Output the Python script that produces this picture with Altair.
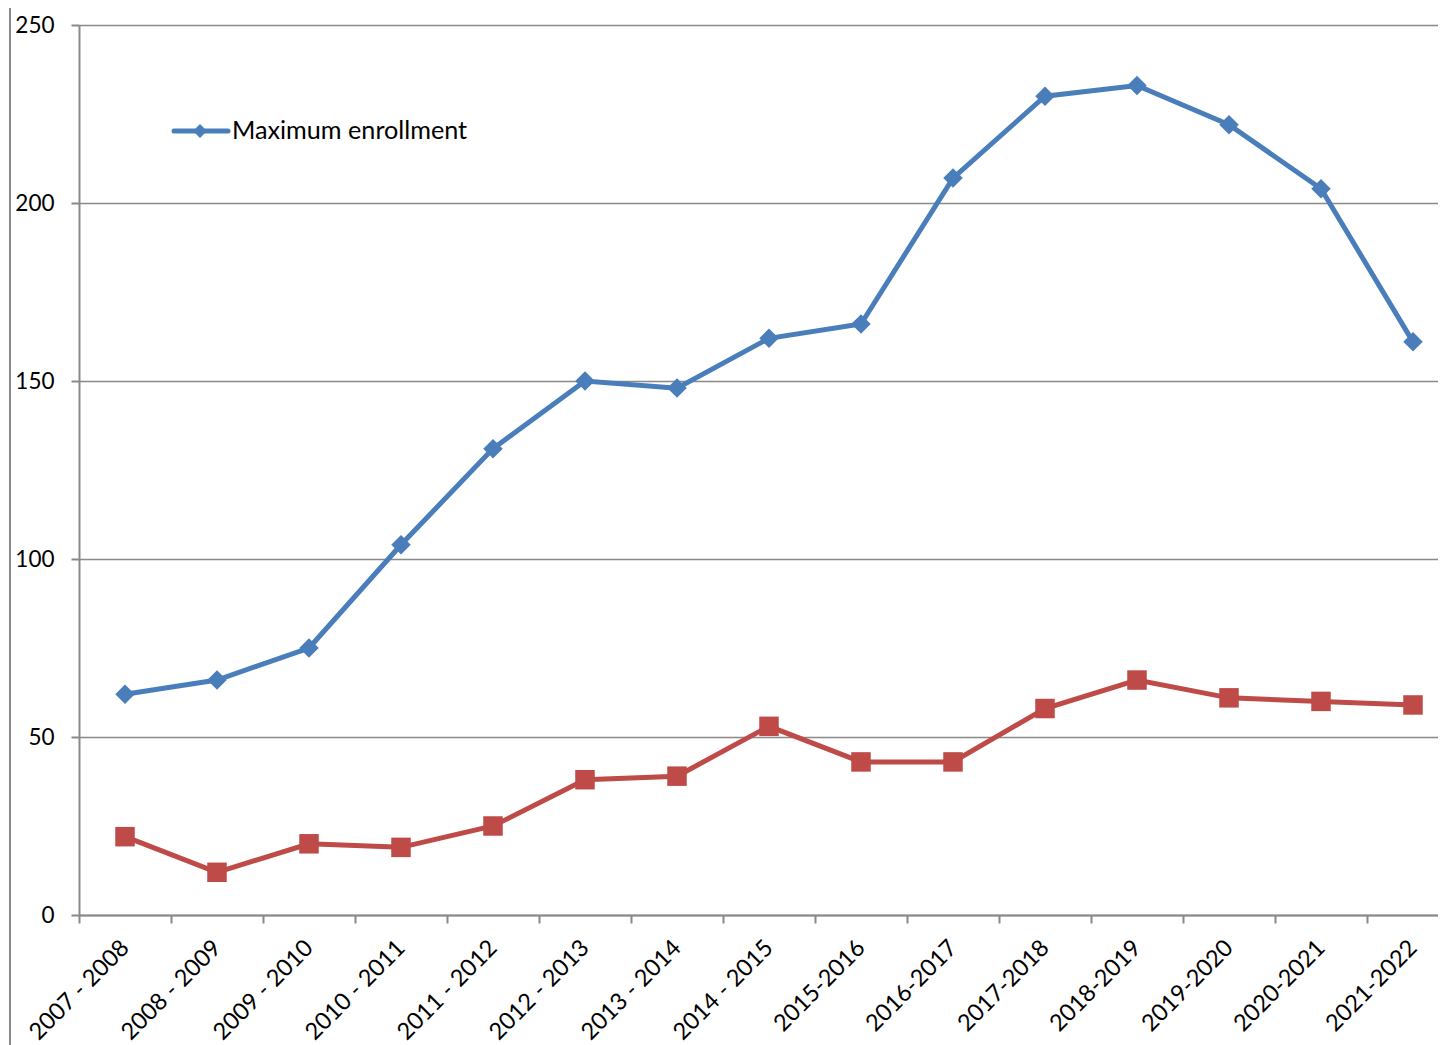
import altair as alt
import pandas as pd

seasons = ["2007 - 2008", "2008 - 2009", "2009 - 2010", "2010 - 2011", "2011 - 2012",
           "2012 - 2013", "2013 - 2014", "2014 - 2015", "2015-2016", "2016-2017",
           "2017-2018", "2018-2019", "2019-2020", "2020-2021", "2021-2022"]
max_enrollment = [62, 66, 75, 104, 131, 150, 148, 162, 166, 207, 230, 233, 222, 204, 161]
actual_enrollment = [22, 12, 20, 19, 25, 38, 39, 53, 43, 43, 58, 66, 61, 60, 59]
series_names = ["Maximum enrollment", "Enrollment"]
y_ticks = [0, 50, 100, 150, 200, 250]

BLUE = "#4A7EBB"
RED = "#BE4B48"
GRID = "#898989"
FONT = "Lato"

blue_df = pd.DataFrame({"season": seasons, "value": max_enrollment, "series": series_names[0]})
red_df = pd.DataFrame({"season": seasons, "value": actual_enrollment, "series": series_names[1]})

x_enc = alt.X(
    "season:N", sort=seasons, title=None,
    scale=alt.Scale(type="band", range=[0, 1380], paddingInner=0, paddingOuter=0),
    axis=alt.Axis(
        tickBand="extent", labelAngle=-45, labelAlign="right", labelBaseline="middle",
        labelFont=FONT, labelFontSize=23.5, labelColor="#000000", labelPadding=21,
        labelOffset=0, tickSize=8, tickColor=GRID, tickWidth=2, domainColor=GRID,
        domainWidth=2, grid=False, labelOverlap=False, labelLimit=0,
    ),
)
y_enc = alt.Y(
    "value:Q", title=None,
    scale=alt.Scale(domain=[0, 250], nice=False, zero=True),
    axis=alt.Axis(
        values=y_ticks, labelFont=FONT, labelFontSize=22.5, labelColor="#000000",
        labelPadding=17, tickSize=8, tickColor=GRID, tickWidth=2, domainColor=GRID,
        domainWidth=2, grid=True, gridColor=GRID, gridWidth=1.6,
    ),
)

red_line = alt.Chart(red_df).mark_line(color=RED, strokeWidth=5).encode(x=x_enc, y=y_enc)
red_pts = alt.Chart(red_df).mark_point(shape="square", filled=True, size=380, color=RED, opacity=1).encode(x=x_enc, y=y_enc)
blue_line = alt.Chart(blue_df).mark_line(color=BLUE, strokeWidth=5).encode(x=x_enc, y=y_enc)
blue_pts = alt.Chart(blue_df).mark_point(shape="diamond", filled=True, size=380, color=BLUE, opacity=1).encode(x=x_enc, y=y_enc)

# Manual legend (only the first series is listed in the reference)
legend_df = pd.DataFrame({"label": [series_names[0]]})
leg_line = alt.Chart(legend_df).mark_rule(color=BLUE, strokeWidth=5, strokeCap="round").encode(
    x=alt.value(95), x2=alt.value(149), y=alt.value(106))
leg_pt = alt.Chart(legend_df).mark_point(shape="diamond", filled=True, size=190, color=BLUE, opacity=1).encode(
    x=alt.value(121), y=alt.value(106))
leg_text = alt.Chart(legend_df).mark_text(align="left", baseline="middle", font=FONT, fontSize=25.2, color="#000000").encode(
    x=alt.value(153), y=alt.value(106), text="label:N")

# Chart-area border (top and left edges visible in the reference)
border_df = pd.DataFrame({"k": [0]})
border_top = alt.Chart(border_df).mark_rule(color=GRID, strokeWidth=2).encode(
    x=alt.value(-69), x2=alt.value(1400), y=alt.value(-21))
border_left = alt.Chart(border_df).mark_rule(color=GRID, strokeWidth=2).encode(
    x=alt.value(-69), y=alt.value(-21), y2=alt.value(1100))

chart = alt.layer(
    border_top, border_left, red_line, red_pts, blue_line, blue_pts, leg_line, leg_pt, leg_text
).properties(
    width=1359, height=890,
    autosize=alt.AutoSizeParams(type="none"),
    padding={"left": 71, "top": 17, "right": 0, "bottom": 130},
).configure_view(stroke=None).configure(background="white")

chart.save("out.html", embed_options={"renderer": "svg", "actions": False})
